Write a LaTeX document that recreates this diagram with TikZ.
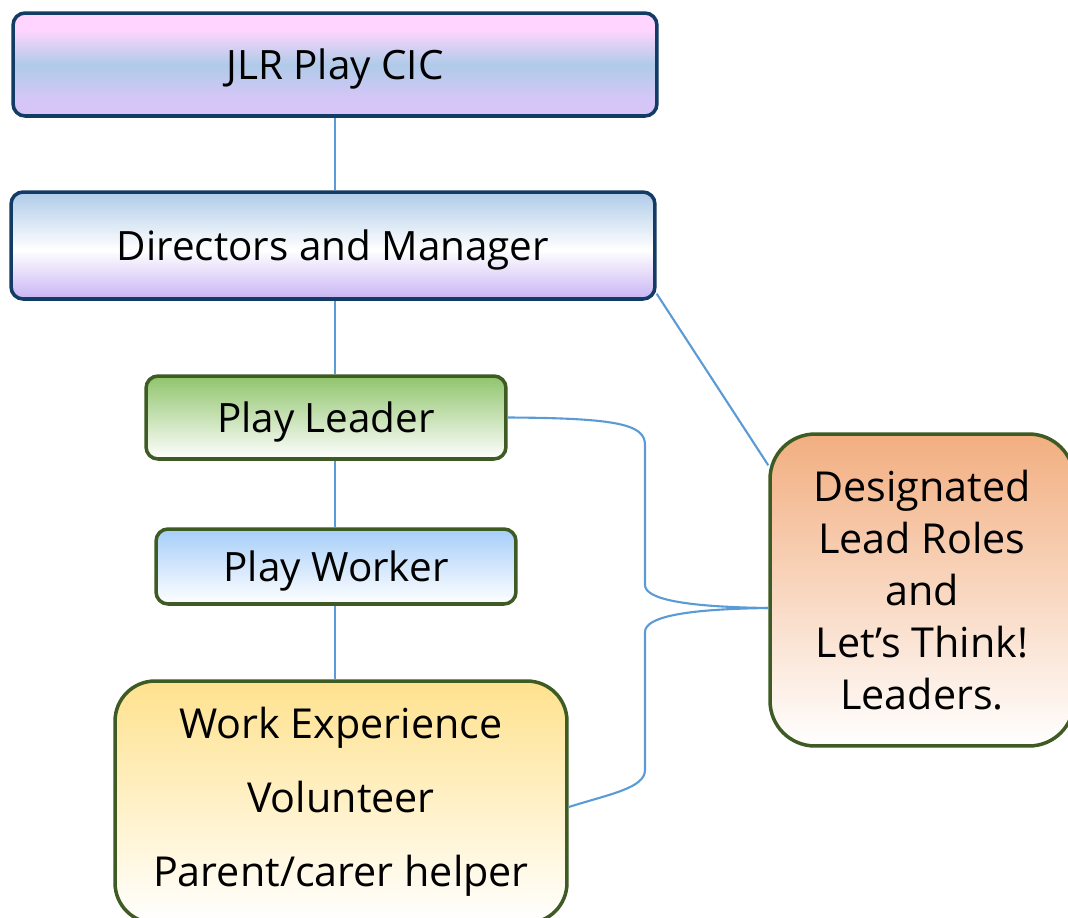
\documentclass[tikz,border=0pt]{standalone}
\usepackage{fontspec}
\setmainfont{Open Sans}
\usepackage{tikz}
\usetikzlibrary{shapes}

\definecolor{navyline}{HTML}{123B66}
\definecolor{greenline}{HTML}{3E5B24}
\definecolor{linkblue}{HTML}{5B9BD5}
\definecolor{pinktop}{HTML}{FFD5FF}
\definecolor{skymid}{HTML}{AFCBE8}
\definecolor{lavlow}{HTML}{D6C6F8}
\definecolor{lavdeep}{HTML}{C9B4F4}
\definecolor{leafgreen}{HTML}{90C46C}
\definecolor{paleblue}{HTML}{A6CEF9}
\definecolor{sunyellow}{HTML}{FFE28E}
\definecolor{peach}{HTML}{F2AE80}

\pgfdeclareverticalshading{cicshade}{100bp}{color(0bp)=(lavlow); color(33bp)=(lavlow); color(50bp)=(skymid); color(67bp)=(pinktop); color(100bp)=(pinktop)}
\pgfdeclareverticalshading{dirshade}{100bp}{color(0bp)=(lavdeep); color(25bp)=(lavdeep); color(48bp)=(white); color(75bp)=(skymid); color(100bp)=(skymid)}

\begin{document}
\begin{tikzpicture}[x=0.02cm, y=-0.02cm, font=\fontsize{23}{27}\selectfont,
	box/.style={draw, rounded corners=0.24cm, line width=2pt, align=center, inner sep=0pt},
	navybox/.style={box, draw=navyline, text depth=0pt},
	greenbox/.style={box, draw=greenline},
	link/.style={draw=linkblue, line width=1.2pt}]
		\useasboundingbox (0,0) rectangle (1068,917);
		% hierarchy
		\node[navybox, shading=cicshade, minimum width=12.88cm, minimum height=2.06cm] (cic) at (335,64.5) {JLR Play CIC};
		\node[navybox, shading=dirshade, minimum width=12.88cm, minimum height=2.14cm] (dir) at (333,245.5) {Directors and Manager};
		\node[greenbox, text depth=0pt, top color=leafgreen, bottom color=white, minimum width=7.2cm, minimum height=1.66cm] (leader) at (326,417.5) {Play Leader};
		\node[greenbox, text depth=0pt, top color=paleblue, bottom color=white, minimum width=7.2cm, minimum height=1.5cm] (worker) at (336,566.5) {Play Worker};
		\node[greenbox, rounded corners=0.8cm, top color=sunyellow, bottom color=white, minimum width=9.04cm, minimum height=4.84cm,
			font=\fontsize{23.5}{42}\selectfont] (helpers) at (341,802) {Work Experience\\Volunteer\\Parent/carer helper};
		% lead roles
		\node[greenbox, rounded corners=0.9cm, top color=peach, bottom color=white, minimum width=6.08cm, minimum height=6.24cm,
			text depth=-3pt, font=\fontsize{23.5}{29.6}\selectfont] (roles) at (922,590) {Designated\\Lead Roles\\and\\Let’s Think!\\Leaders.};
		% connectors
		\draw[link] (cic.south) -- (cic.south |- dir.north);
		\draw[link] (cic.south |- dir.south) -- (cic.south |- leader.north);
		\draw[link] (cic.south |- leader.south) -- (cic.south |- worker.north);
		\draw[link] (cic.south |- worker.south) -- (cic.south |- helpers.north);
		\draw[link] ([yshift=0.14cm]dir.south east) -- ([yshift=-0.66cm]roles.north west);
		\draw[link] (leader.east) .. controls (620,418) and (645,425) .. (645,445) -- (645,585)
			.. controls (645,600) and (690,607) .. ([yshift=-0.36cm]roles.west);
		\draw[link] ([yshift=-0.1cm]helpers.east) .. controls (610,794) and (645,788) .. (645,770) -- (645,632)
			.. controls (645,616) and (690,609) .. ([yshift=-0.36cm]roles.west);
	\end{tikzpicture}
\end{document}
